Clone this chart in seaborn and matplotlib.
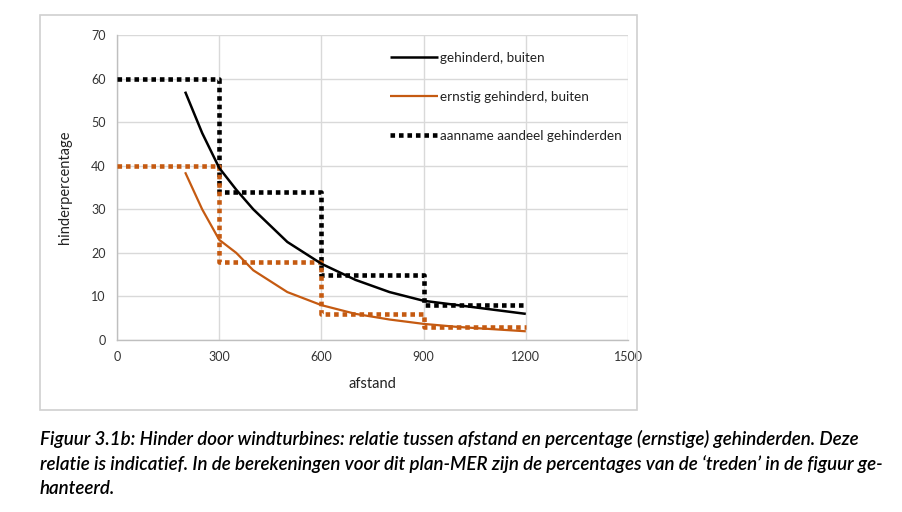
import matplotlib
matplotlib.use("Agg")
import matplotlib.pyplot as plt
import seaborn as sns
import pandas as pd
from matplotlib.patches import Rectangle

# Data
afstand_curve = [200, 250, 300, 350, 400, 500, 600, 700, 800, 900, 1000, 1100, 1200]
gehinderd = [57, 47.5, 39.5, 34.5, 30, 22.5, 17.5, 13.8, 11, 9, 8, 7, 6]
ernstig = [38.5, 30, 23, 20, 16, 11, 8, 6, 4.7, 3.7, 3, 2.5, 2]

step_edges = [0, 300, 600, 900, 1200]
aanname_gehinderd = [60, 34, 15, 8]
aanname_ernstig = [40, 18, 6, 3]

labels = ["gehinderd, buiten", "ernstig gehinderd, buiten", "aanname aandeel gehinderden"]
x_ticks = [0, 300, 600, 900, 1200, 1500]
y_ticks = [0, 10, 20, 30, 40, 50, 60, 70]
caption = ("Figuur 3.1b: Hinder door windturbines: relatie tussen afstand en percentage (ernstige) gehinderden. Deze\n"
           "relatie is indicatief. In de berekeningen voor dit plan-MER zijn de percentages van de \u2018treden\u2019 in de figuur ge-\n"
           "hanteerd.")

sns.set_theme(style="white")
plt.rcParams['font.family'] = ['Lato', 'DejaVu Sans']

BLACK = "#000000"
ORANGE = "#C55A11"

fig = plt.figure(figsize=(9.03, 5.12), dpi=100)
fig.patch.set_facecolor("white")
fig.patches.append(Rectangle((40/903, 1-410/512), 597/903, 395/512, transform=fig.transFigure,
                             fill=False, edgecolor="#d0d0d0", linewidth=1.2))
ax = fig.add_axes([117/903, 1-340/512, 511/903, 305/512])

df_curve = pd.DataFrame({"afstand": afstand_curve, "gehinderd": gehinderd, "ernstig": ernstig})
step_y_g = aanname_gehinderd + [aanname_gehinderd[-1]]
step_y_e = aanname_ernstig + [aanname_ernstig[-1]]
df_step = pd.DataFrame({"afstand": step_edges, "g": step_y_g, "e": step_y_e})

dot = (0, (1.0, 0.85))
sns.lineplot(data=df_step, x="afstand", y="g", ax=ax, color=BLACK, linewidth=3.3,
             linestyle=dot, drawstyle="steps-post", label=labels[2], zorder=3)
sns.lineplot(data=df_step, x="afstand", y="e", ax=ax, color=ORANGE, linewidth=3.3,
             linestyle=dot, drawstyle="steps-post", label="_nolegend_", zorder=3)
sns.lineplot(data=df_curve, x="afstand", y="gehinderd", ax=ax, color=BLACK, linewidth=1.8,
             label=labels[0], zorder=4)
sns.lineplot(data=df_curve, x="afstand", y="ernstig", ax=ax, color=ORANGE, linewidth=1.6,
             label=labels[1], zorder=4)

for line in ax.get_lines():
    line.set_dash_capstyle("butt")
    line.set_solid_capstyle("butt")

ax.set_xlim(0, 1500)
ax.set_ylim(0, 70)
ax.set_xticks(x_ticks)
ax.set_yticks(y_ticks)
ax.tick_params(axis="both", labelsize=9, colors="#333333", length=0, pad=8)
ax.grid(True, color="#d9d9d9", linewidth=1)
for s in ["top", "right"]:
    ax.spines[s].set_visible(False)
for s in ["left", "bottom"]:
    ax.spines[s].set_color("#bfbfbf")
    ax.spines[s].set_linewidth(1)
ax.set_xlabel("afstand", fontsize=10.5, color="#222222", labelpad=10)
ax.set_ylabel("hinderpercentage", fontsize=10.5, color="#222222", labelpad=14)

h, l = ax.get_legend_handles_labels()
order = [l.index(x) for x in labels]
leg = ax.legend([h[i] for i in order], [l[i] for i in order], loc="upper left",
                bbox_to_anchor=(0.51, 0.985), frameon=False, fontsize=9.7,
                handlelength=3.6, handletextpad=0.1, labelspacing=2.0)
for t in leg.get_texts():
    t.set_color("#222222")

fig.text(40/903, 1-430/512, caption, fontsize=13.5, fontstyle="italic", fontweight="semibold",
         va="top", ha="left", linespacing=1.5, color="#000000")

fig.savefig("out.png", dpi=100, facecolor="white")
